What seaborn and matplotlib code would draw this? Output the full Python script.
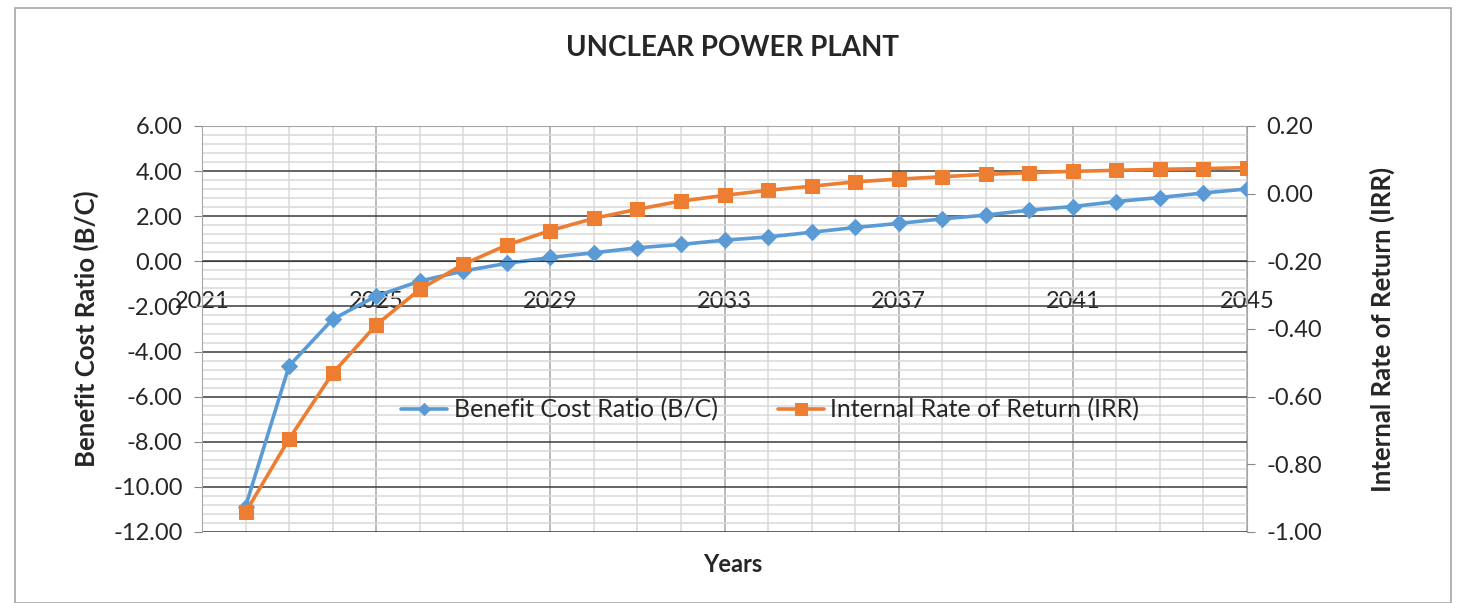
import numpy as np
import pandas as pd
import matplotlib
matplotlib.use("Agg")
import matplotlib.pyplot as plt
import seaborn as sns
from matplotlib.ticker import MultipleLocator, FixedLocator, FormatStrFormatter
from matplotlib.patches import Rectangle

# values
years = list(range(2022, 2046))
bc_ratio = [-10.87, -4.64, -2.57, -1.54, -0.88, -0.43, -0.09, 0.17, 0.38, 0.60,
            0.75, 0.94, 1.08, 1.29, 1.50, 1.68, 1.88, 2.05, 2.27, 2.43,
            2.65, 2.83, 3.03, 3.21]
irr = [-0.942, -0.725, -0.531, -0.388, -0.283, -0.209, -0.152, -0.109, -0.073, -0.046,
       -0.022, -0.005, 0.010, 0.022, 0.035, 0.043, 0.050, 0.057, 0.062, 0.066,
       0.069, 0.072, 0.074, 0.077]
year_ticks = [2021, 2025, 2029, 2033, 2037, 2041, 2045]
bc_label = "Benefit Cost Ratio (B/C)"
irr_label = "Internal Rate of Return (IRR)"

df = pd.DataFrame({"Year": years, "BC": bc_ratio, "IRR": irr})

sns.set_style("white")
plt.rcParams["font.family"] = ["Lato", "DejaVu Sans"]
plt.rcParams["axes.unicode_minus"] = False

W, H = 1469, 603
fig = plt.figure(figsize=(W / 100, H / 100), dpi=100)
fig.patches.append(Rectangle((15 / W, 0), (1451 - 15) / W, 1 - 8 / H,
                             transform=fig.transFigure, fill=False,
                             edgecolor="#a6a6a6", lw=1.2))

ax = fig.add_axes([202 / W, (H - 532) / H, (1247 - 202) / W, (532 - 126) / H])
ax2 = ax.twinx()

blue = "#5B9BD5"
orange = "#ED7D31"

# grid, Excel style
ax.set_xlim(2021, 2045)
ax.set_ylim(-12, 6)
ax.xaxis.set_major_locator(FixedLocator(year_ticks))
ax.xaxis.set_minor_locator(MultipleLocator(1))
ax.yaxis.set_major_locator(MultipleLocator(2))
ax.yaxis.set_minor_locator(MultipleLocator(0.4))
ax.grid(which="minor", color="#d9d9d9", lw=1.1)
ax.grid(which="major", axis="x", color="#a6a6a6", lw=1.1)
ax.grid(which="major", axis="y", color="#3a3a3a", lw=1.1)
ax.set_axisbelow(True)

ax.yaxis.set_major_formatter(FormatStrFormatter("%.2f"))
ax.tick_params(axis="y", which="major", length=6, color="#888888", labelsize=17, pad=8)
ax.tick_params(axis="y", which="minor", length=0)
ax.tick_params(axis="x", which="both", length=0, labelsize=17, pad=21)
ax.xaxis.set_major_formatter(FormatStrFormatter("%d"))

ax.spines["bottom"].set_position(("data", 0))
ax.spines["bottom"].set_color("#3a3a3a")
for s in ["left", "right", "top"]:
    ax.spines[s].set_color("#a6a6a6")

ax2.set_ylim(-1.0, 0.2)
ax2.yaxis.set_major_locator(MultipleLocator(0.2))
ax2.yaxis.set_major_formatter(FormatStrFormatter("%.2f"))
ax2.tick_params(axis="y", length=6, color="#888888", labelsize=17, pad=8)
for s in ax2.spines.values():
    s.set_visible(False)
ax2.grid(False)

sns.lineplot(data=df, x="Year", y="BC", ax=ax, color=blue, lw=2.6,
             marker="D", markersize=8, markeredgecolor=blue, label=bc_label, legend=False)
sns.lineplot(data=df, x="Year", y="IRR", ax=ax2, color=orange, lw=2.6,
             marker="s", markersize=10, markeredgecolor=orange, label=irr_label, legend=False)

ax.set_xlabel("")
ax.set_ylabel("Benefit Cost Ratio (B/C)", fontsize=18.5, fontweight="bold", labelpad=10)
ax2.set_ylabel("Internal Rate of Return (IRR)", fontsize=18.5, fontweight="bold", labelpad=34)
fig.text(733 / W, 1 - 565 / H, "Years", ha="center", va="center", fontsize=17, fontweight="bold")
fig.text(733 / W, 1 - 48 / H, "UNCLEAR POWER PLANT", ha="center", va="center",
         fontsize=20, fontweight="bold")

h1, l1 = ax.get_legend_handles_labels()
h2, l2 = ax2.get_legend_handles_labels()
ax2.legend(h1 + h2, l1 + l2, loc="center", bbox_to_anchor=(770 / W, 1 - 410 / H),
           bbox_transform=fig.transFigure, ncol=2, frameon=False, fontsize=18,
           handlelength=1.85, handletextpad=0.25, columnspacing=2.4, markerscale=0.8)

fig.savefig("out.png", dpi=100)
